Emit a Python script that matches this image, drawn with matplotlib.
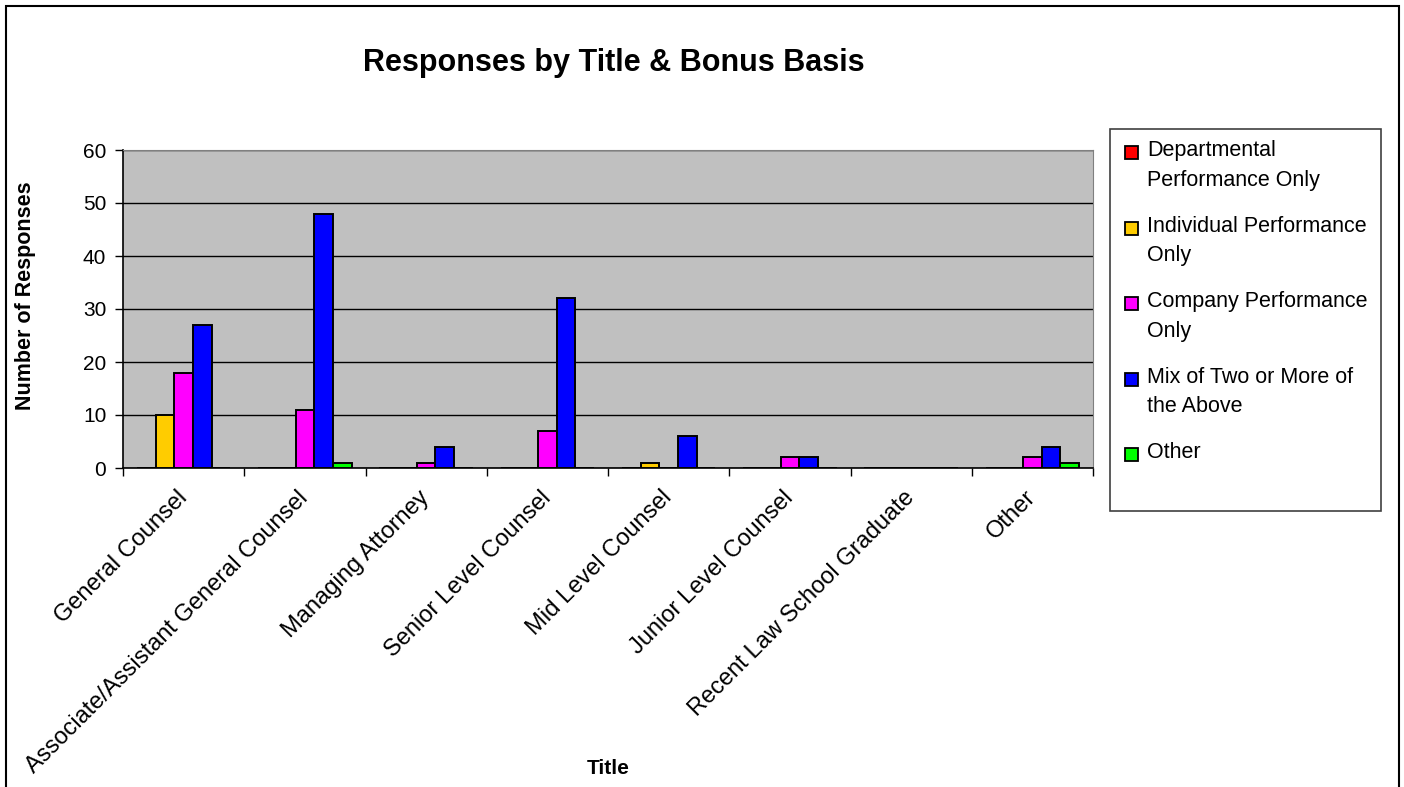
import numpy as np
import matplotlib
matplotlib.use('Agg')
import matplotlib.pyplot as plt
from matplotlib.patches import Rectangle

plt.rcParams['font.family'] = ['Liberation Sans', 'DejaVu Sans']

titles = [
    'General Counsel',
    'Associate/Assistant General Counsel',
    'Managing Attorney',
    'Senior Level Counsel',
    'Mid Level Counsel',
    'Junior Level Counsel',
    'Recent Law School Graduate',
    'Other',
]
series_names = [
    'Departmental\nPerformance Only',
    'Individual Performance\nOnly',
    'Company Performance\nOnly',
    'Mix of Two or More of\nthe Above',
    'Other',
]
series_colors = ['#FF0000', '#FFCC00', '#FF00FF', '#0000FF', '#00FF00']

departmental = [0, 0, 0, 0, 0, 0, 0, 0]
individual = [10, 0, 0, 0, 1, 0, 0, 0]
company = [18, 11, 1, 7, 0, 2, 0, 2]
mix = [27, 48, 4, 32, 6, 2, 0, 4]
other = [0, 1, 0, 0, 0, 0, 0, 1]
series_values = [departmental, individual, company, mix, other]

W, H = 1404, 787
fig = plt.figure(figsize=(W / 100, H / 100), dpi=100)

# outer chart border (runs off the bottom edge)
fig.patches.append(Rectangle((6 / W, -0.05), (1399 - 6) / W, 1.05 - 6 / H,
                             transform=fig.transFigure, fill=False,
                             edgecolor='black', linewidth=1.5))

ax = fig.add_axes([123 / W, 1 - 468 / H, 970 / W, 318 / H])
ax.set_facecolor('#C0C0C0')

x = np.arange(len(titles))
bar_w = 1 / 6.5
for j, (vals, color, name) in enumerate(zip(series_values, series_colors, series_names)):
    ax.bar(x + (j - 2) * bar_w, vals, width=bar_w, color=color,
           edgecolor='black', linewidth=1.4, zorder=3, label=name)

ax.set_xlim(-0.5, len(titles) - 0.5)
ax.set_ylim(0, 60)
ax.set_yticks(range(0, 61, 10))
ax.yaxis.grid(True, color='black', linewidth=1.0, zorder=1)
ax.set_axisbelow(True)

ax.set_xticks(np.arange(len(titles) + 1) - 0.5)
ax.set_xticklabels([])
ax.set_xticks(x, minor=True)
ax.set_xticklabels(titles, minor=True, rotation=45, ha='right', va='center',
                   rotation_mode='anchor', fontsize=17)
ax.tick_params(axis='x', which='major', direction='out', length=6, width=1)
ax.tick_params(axis='x', which='minor', length=0, pad=19)
ax.tick_params(axis='y', direction='out', length=6, width=1, labelsize=15, pad=6)

for side in ['top', 'right']:
    ax.spines[side].set_color('#808080')
for side in ['left', 'bottom']:
    ax.spines[side].set_color('black')
    ax.spines[side].set_linewidth(1.2)

fig.text(614 / W, 1 - 71 / H, 'Responses by Title & Bonus Basis',
         fontsize=22, fontweight='bold', ha='center', va='baseline')
fig.text(26 / W, 1 - 296 / H, 'Number of Responses', fontsize=15.5,
         fontweight='bold', rotation=90, ha='center', va='center')
fig.text(608 / W, 1 - 768 / H, 'Title', fontsize=15, fontweight='bold',
         ha='center', va='center')

# legend box
fig.patches.append(Rectangle((1110 / W, 1 - 511 / H), 271 / W, 382 / H,
                             transform=fig.transFigure, facecolor='white',
                             edgecolor='#404040', linewidth=1.2))
for i, (name, color) in enumerate(zip(series_names, series_colors)):
    yc = 152 + 75.5 * i
    fig.patches.append(Rectangle((1125 / W, 1 - (yc + 7) / H), 13 / W, 13 / H,
                                 transform=fig.transFigure, facecolor=color,
                                 edgecolor='black', linewidth=1.3))
    fig.text(1147 / W, 1 - (yc - 12) / H, name, fontsize=15.5, ha='left',
             va='top', linespacing=1.55)

fig.savefig('out.png', dpi=100)
